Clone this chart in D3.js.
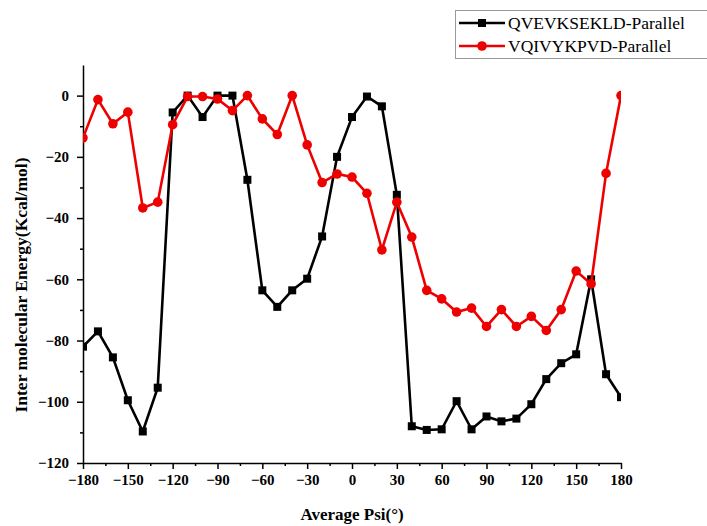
<!DOCTYPE html>
<html>
<head>
<meta charset="utf-8">
<script src="https://cdn.jsdelivr.net/npm/d3@7"></script>
<style>
  body { margin: 0; background: #fff; }
</style>
</head>
<body>
<div id="chart"></div>
<script>
const psi = d3.range(-180, 181, 10);

const qvevksekld = [
  -82, -77, -85.5, -99.5, -109.7, -95.4, -5.5, 0, -7, 0,
  0, -27.5, -63.6, -69, -63.6, -59.8, -46, -20, -7, -0.3,
  -3.5, -32.4, -108, -109.2, -109, -99.8, -109, -104.8, -106.4, -105.5,
  -100.8, -92.6, -87.4, -84.5, -60, -91, -98.5
];

const vqivykpvd = [
  -13.8, -1.3, -9.2, -5.4, -36.7, -34.8, -9.5, -0.3, -0.3, -1.1,
  -4.9, 0, -7.6, -12.7, 0, -16.1, -28.4, -25.6, -26.6, -31.9,
  -50.4, -34.8, -46.2, -63.6, -66.4, -70.7, -69.4, -75.4, -69.9, -75.4,
  -72.1, -76.7, -69.9, -57.3, -61.5, -25.4, 0
];

const seriesNames = ['QVEVKSEKLD-Parallel', 'VQIVYKPVD-Parallel'];
const xTicks = d3.range(-180, 181, 30);
const yTicks = d3.range(-120, 1, 20);

const width = 707, height = 526;
const margin = {left: 83, right: 86, top: 65, bottom: 63};
const serif = '"Liberation Serif", "Times New Roman", serif';

const svg = d3.select('#chart').append('svg')
  .attr('width', width)
  .attr('height', height)
  .style('font-family', serif);

const x = d3.scaleLinear([-180, 180], [margin.left, width - margin.right]);
const y = d3.scaleLinear([-120, 10], [height - margin.bottom, margin.top]);

// axes, major + minor ticks
svg.append('g')
  .attr('transform', `translate(0,${y(-120)})`)
  .call(d3.axisBottom(x).tickValues(xTicks).tickSize(6).tickPadding(5).tickSizeOuter(0));

svg.append('g')
  .attr('transform', `translate(0,${y(-120)})`)
  .call(d3.axisBottom(x).tickValues(d3.range(-165, 180, 30)).tickSize(3).tickFormat('').tickSizeOuter(0))
  .select('.domain').remove();

svg.append('g')
  .attr('transform', `translate(${x(-180)},0)`)
  .call(d3.axisLeft(y).tickValues(yTicks).tickSize(6).tickPadding(8).tickSizeOuter(0));

svg.append('g')
  .attr('transform', `translate(${x(-180)},0)`)
  .call(d3.axisLeft(y).tickValues(d3.range(-110, 10, 20)).tickSize(3).tickFormat('').tickSizeOuter(0))
  .select('.domain').remove();

svg.selectAll('.domain').attr('stroke', '#000').attr('stroke-width', 1.5);
svg.selectAll('.tick line').attr('stroke', '#000').attr('stroke-width', 1.5);
svg.selectAll('.tick text')
  .style('font-family', serif)
  .style('font-size', '15px')
  .style('font-weight', 'bold')
  .attr('fill', '#000');

// axis titles
svg.append('text')
  .attr('x', x(0))
  .attr('y', 520)
  .attr('text-anchor', 'middle')
  .style('font-family', serif)
  .style('font-size', '17px')
  .style('font-weight', 'bold')
  .text('Average Psi(°)');

svg.append('text')
  .attr('transform', 'translate(27,285) rotate(-90)')
  .attr('text-anchor', 'middle')
  .style('font-family', serif)
  .style('font-size', '17.5px')
  .style('font-weight', 'bold')
  .text('Inter molecular Energy(Kcal/mol)');

// plot area, clipped at the axes
svg.append('clipPath').attr('id', 'clip')
  .append('rect')
    .attr('x', x(-180))
    .attr('y', 0)
    .attr('width', x(180) - x(-180))
    .attr('height', y(-120));

const plot = svg.append('g').attr('clip-path', 'url(#clip)');

const line = d3.line()
  .x(d => x(d[0]))
  .y(d => y(d[1]));

const black = psi.map((p, i) => [p, qvevksekld[i]]);
const red = psi.map((p, i) => [p, vqivykpvd[i]]);

plot.append('path')
  .datum(black)
  .attr('fill', 'none')
  .attr('stroke', '#000')
  .attr('stroke-width', 2.6)
  .attr('d', line);

plot.selectAll('rect.sq')
  .data(black)
  .join('rect')
    .attr('class', 'sq')
    .attr('x', d => x(d[0]) - 4)
    .attr('y', d => y(d[1]) - 4)
    .attr('width', 8)
    .attr('height', 8)
    .attr('fill', '#000');

plot.append('path')
  .datum(red)
  .attr('fill', 'none')
  .attr('stroke', '#ee0000')
  .attr('stroke-width', 2.6)
  .attr('d', line);

plot.selectAll('circle.dot')
  .data(red)
  .join('circle')
    .attr('class', 'dot')
    .attr('cx', d => x(d[0]))
    .attr('cy', d => y(d[1]))
    .attr('r', 4.8)
    .attr('fill', '#ee0000');

// legend
const legend = svg.append('g');
legend.append('rect')
  .attr('x', 455.5)
  .attr('y', 10.5)
  .attr('width', 270)
  .attr('height', 48)
  .attr('fill', '#fff')
  .attr('stroke', '#999')
  .attr('stroke-width', 1);

const colors = ['#000', '#ee0000'];
seriesNames.forEach((name, i) => {
  const ly = 23 + i * 23;
  legend.append('line')
    .attr('x1', 459).attr('x2', 505)
    .attr('y1', ly).attr('y2', ly)
    .attr('stroke', colors[i])
    .attr('stroke-width', 2.6);
  if (i === 0) {
    legend.append('rect')
      .attr('x', 478).attr('y', ly - 4)
      .attr('width', 8).attr('height', 8)
      .attr('fill', colors[i]);
  } else {
    legend.append('circle')
      .attr('cx', 482).attr('cy', ly)
      .attr('r', 4.8)
      .attr('fill', colors[i]);
  }
  legend.append('text')
    .attr('x', 508)
    .attr('y', ly + 6)
    .style('font-family', serif)
    .style('font-size', '17.5px')
    .text(name);
});
</script>
</body>
</html>
